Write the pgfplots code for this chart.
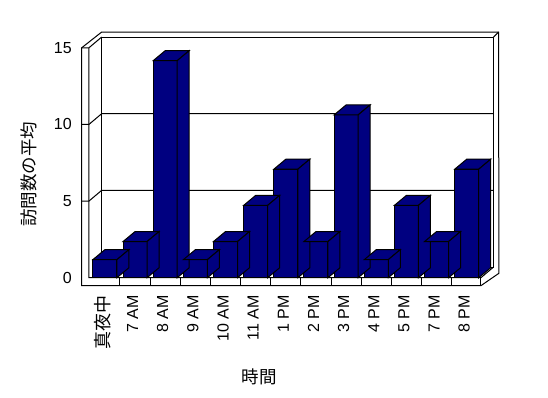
\documentclass[border=0pt]{standalone}
\usepackage{pgfplots}
\pgfplotsset{compat=1.18}
\usepackage{pgfplotstable}
\usepackage{fontspec}
\setmainfont{Liberation Sans}
\newfontfamily\jp{Noto Sans CJK JP}
\usetikzlibrary{calc}
\definecolor{navyb}{RGB}{0,0,128}

\pgfplotstableread{
x h
0 1.18
1 2.36
2 14.16
3 1.18
4 2.36
5 4.72
6 7.08
7 2.36
8 10.62
9 1.18
10 4.72
11 2.36
12 7.08
}\datatable

% top + side faces of a column; origin = top-front-centre of the column
\pgfdeclareplotmark{cuboid}{%
  \pgfmathsetmacro\Hpt{\hval*15.33}%
  \pgfpathmoveto{\pgfpoint{-12pt}{0pt}}%
  \pgfpathlineto{\pgfpoint{12pt}{0pt}}%
  \pgfpathlineto{\pgfpoint{24pt}{10pt}}%
  \pgfpathlineto{\pgfpoint{0pt}{10pt}}%
  \pgfpathclose
  \pgfusepathqfillstroke
  \pgfpathmoveto{\pgfpoint{12pt}{0pt}}%
  \pgfpathlineto{\pgfpoint{24pt}{10pt}}%
  \pgfpathlineto{\pgfpoint{24pt}{10pt-\Hpt pt}}%
  \pgfpathlineto{\pgfpoint{12pt}{-\Hpt pt}}%
  \pgfpathclose
  \pgfusepathqfillstroke
}

\begin{document}
\begin{tikzpicture}
\useasboundingbox (0,0) rectangle (548pt,398pt);
\begin{axis}[
  at={(81.7pt,112.3pt)}, anchor=south west,
  x=30.15pt, y=15.33pt,
  xmin=-0.77, xmax=13.1, ymin=-0.52, ymax=15.9,
  clip=false,
  axis line style={draw=none},
  tick style={draw=none},
  xtick={0,...,12},
  xticklabels={{\fontsize{18}{20}\selectfont\jp 真夜中},7 AM,8 AM,9 AM,10 AM,11 AM,1 PM,2 PM,3 PM,4 PM,5 PM,7 PM,8 PM},
  ytick={0,5,10,15},
  /pgf/number format/assume math mode=true,
  tick label style={font=\fontsize{16}{18}\selectfont},
  xticklabel style={rotate=90, anchor=east, xshift=-6pt, yshift=2.5pt},
  yticklabel style={xshift=-6.4pt},
  xlabel={\jp 時間},
  ylabel={\jp 訪問数の平均},
  every axis x label/.style={at={(axis cs:5.114,-6.46)}, anchor=center, font=\fontsize{17.5}{19}\selectfont},
  every axis y label/.style={at={(axis cs:-2.534,6.765)}, rotate=90, anchor=center, font=\fontsize{17.5}{19}\selectfont},
]
% walls and floor
\draw[line width=1pt]
  ($(axis cs:-0.53,0)+(12.7pt,10.7pt)$) rectangle ($(axis cs:12.47,15)+(12.7pt,10.7pt)$);
\draw[line width=1pt]
  (axis cs:-0.77,15) -- ($(axis cs:-0.53,15)+(12.7pt,15.7pt)$)
  -- ($(axis cs:12.47,15)+(17.7pt,15.7pt)$)
  -- ($(axis cs:12.47,-0.52)+(18pt,12.4pt)$)
  -- (axis cs:12.47,-0.52) -- (axis cs:-0.77,-0.52) -- cycle;
\draw[line width=1pt] ($(axis cs:12.47,15)+(12.7pt,10.7pt)$) -- ++(5pt,5pt);
\draw[line width=1pt] (axis cs:-0.77,15) -- (axis cs:-0.53,15) -- ++(12.7pt,10.7pt);
\draw[line width=1pt] (axis cs:-0.53,15) -- (axis cs:-0.53,0) -- (axis cs:12.47,0) -- ++(12.7pt,10.7pt);
\draw[line width=1pt] (axis cs:12.47,0) -- (axis cs:12.47,-0.52);
\pgfplotsinvokeforeach{5,10}{
  \draw[line width=1pt] (axis cs:-0.77,#1) -- (axis cs:-0.53,#1) -- ++(12.7pt,10.7pt) -- ($(axis cs:12.47,#1)+(12.7pt,10.7pt)$);
}
\pgfplotsinvokeforeach{0.5,1.5,...,11.5}{
  \draw[line width=1pt] (axis cs:#1,-0.52) -- (axis cs:#1,0);
}
% top and side faces
\addplot[scatter, only marks, mark=cuboid,
  visualization depends on={rawy \as \hval},
  scatter/use mapped color={draw=black, fill=navyb},
  mark options={line width=1pt}]
  table[x=x, y=h]{\datatable};
% front faces
\addplot[ybar, bar width=24pt, fill=navyb, draw=black, line width=1pt]
  table[x=x, y=h]{\datatable};
\end{axis}
\end{tikzpicture}
\end{document}
